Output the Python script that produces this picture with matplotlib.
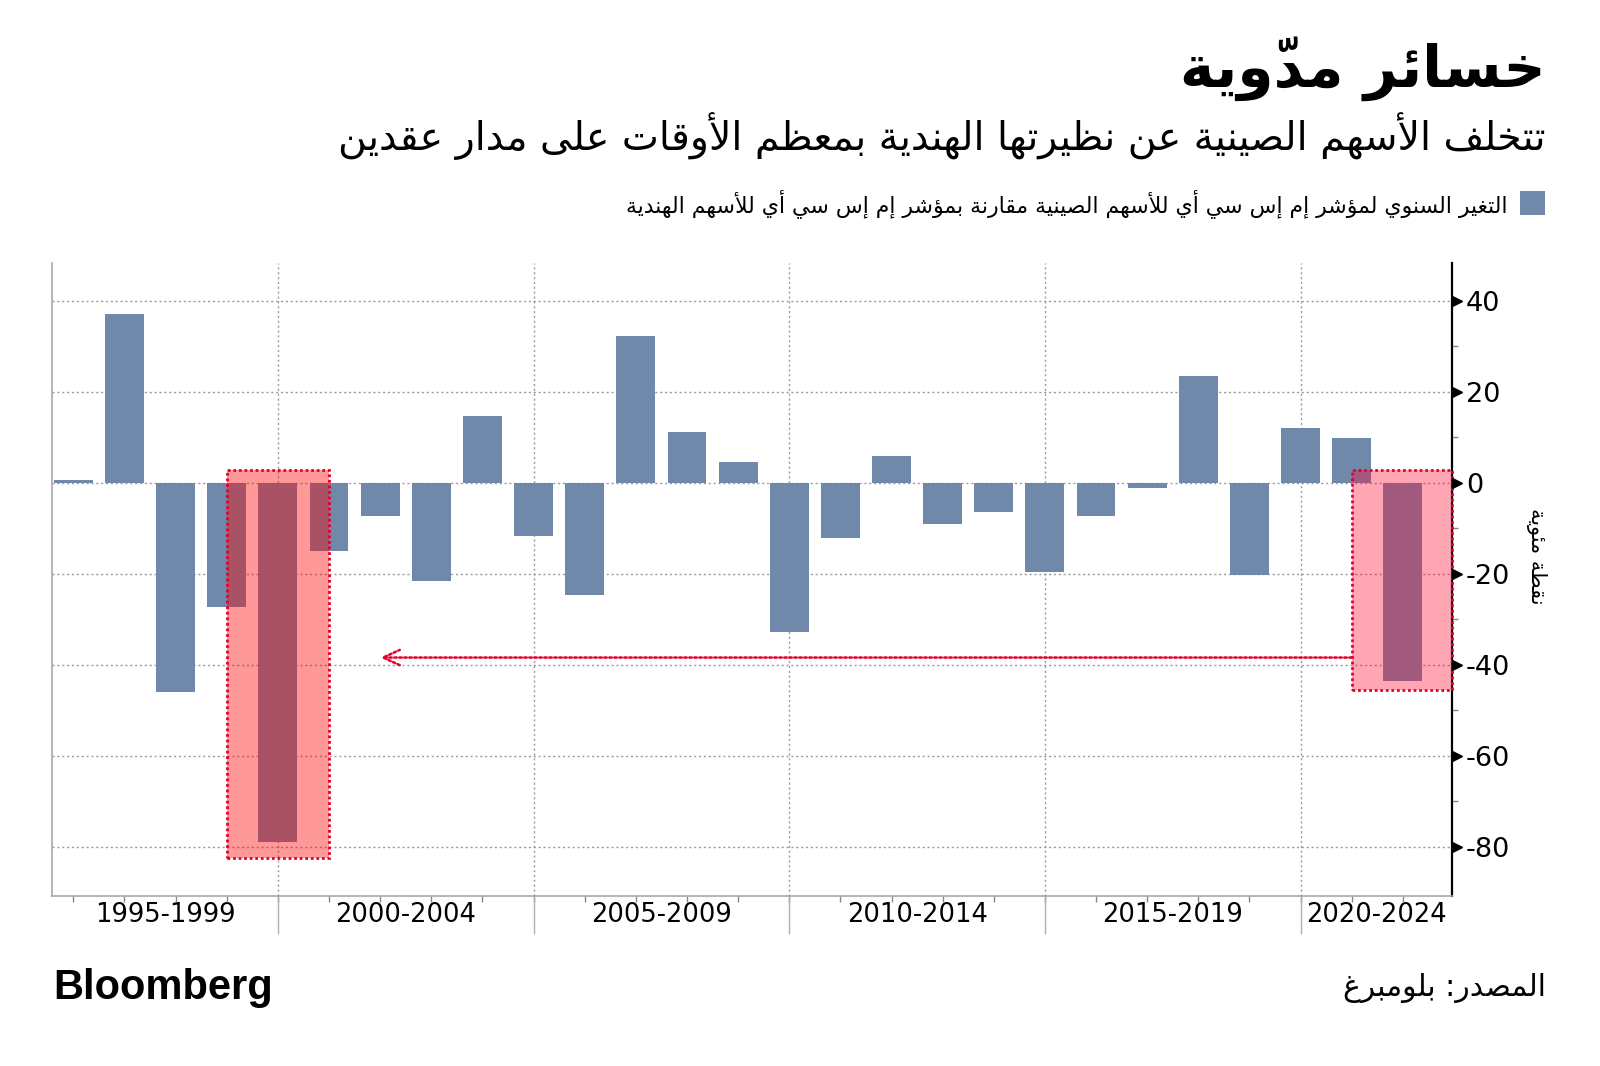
import matplotlib
matplotlib.use('Agg')
import matplotlib.pyplot as plt
import matplotlib.transforms as mtransforms
from matplotlib.patches import Rectangle
from matplotlib import font_manager as fm
import numpy as np

# ---------------- data ----------------
years = list(range(1995, 2022))
values = [0.6, 37.2, -46.0, -27.4, -79.0, -14.9, -7.4, -21.5, 14.7, -11.6,
          -24.6, 32.2, 11.1, 4.5, -32.7, -12.2, 5.9, -9.1, -6.5, -19.7,
          -7.2, -1.1, 23.5, -20.3, 12.1, 9.8, -43.5]
period_labels = ['1995-1999', '2000-2004', '2005-2009', '2010-2014', '2015-2019', '2020-2024']
period_breaks = [1999, 2004, 2009, 2014, 2019]
highlight_years = [1999, 2021]
y_ticks = [-80, -60, -40, -20, 0, 20, 40]
y_minor = [-70, -50, -30, -10, 10, 30]

title = 'خسائر مدوّية'
subtitle = 'تتخلف الأسهم الصينية عن نظيرتها الهندية بمعظم الأوقات على مدار عقدين'
legend_label = 'التغير السنوي لمؤشر إم إس سي أي للأسهم الصينية مقارنة بمؤشر إم إس سي أي للأسهم الهندية'
y_label = 'نقطة مئوية'
source = 'المصدر: بلومبرغ'

# ---------------- Arabic shaping ----------------
_AR = {
    'ء': (0xFE80, 1), 'آ': (0xFE81, 2), 'أ': (0xFE83, 2), 'ؤ': (0xFE85, 2), 'إ': (0xFE87, 2),
    'ئ': (0xFE89, 4), 'ا': (0xFE8D, 2), 'ب': (0xFE8F, 4), 'ة': (0xFE93, 2), 'ت': (0xFE95, 4),
    'ث': (0xFE99, 4), 'ج': (0xFE9D, 4), 'ح': (0xFEA1, 4), 'خ': (0xFEA5, 4), 'د': (0xFEA9, 2),
    'ذ': (0xFEAB, 2), 'ر': (0xFEAD, 2), 'ز': (0xFEAF, 2), 'س': (0xFEB1, 4), 'ش': (0xFEB5, 4),
    'ص': (0xFEB9, 4), 'ض': (0xFEBD, 4), 'ط': (0xFEC1, 4), 'ظ': (0xFEC5, 4), 'ع': (0xFEC9, 4),
    'غ': (0xFECD, 4), 'ف': (0xFED1, 4), 'ق': (0xFED5, 4), 'ك': (0xFED9, 4), 'ل': (0xFEDD, 4),
    'م': (0xFEE1, 4), 'ن': (0xFEE5, 4), 'ه': (0xFEE9, 4), 'و': (0xFEED, 2), 'ى': (0xFEEF, 2),
    'ي': (0xFEF1, 4),
}
_LAMALEF = {'آ': 0xFEF5, 'أ': 0xFEF7, 'إ': 0xFEF9, 'ا': 0xFEFB}


def _is_mark(c):
    o = ord(c)
    return 0x064B <= o <= 0x065F or o == 0x0670


def ar(text):
    s = text
    n = len(s)
    out = []
    prev_connects = False
    i = 0
    while i < n:
        c = s[i]
        if _is_mark(c):
            if out:
                out[-1].append(c)
            else:
                out.append([c])
            i += 1
            continue
        if c not in _AR:
            out.append([c])
            prev_connects = False
            i += 1
            continue
        j = i + 1
        while j < n and _is_mark(s[j]):
            j += 1
        nxt = s[j] if j < n else None
        if c == 'ل' and nxt in _LAMALEF:
            out.append([chr(_LAMALEF[nxt] + (1 if prev_connects else 0))])
            prev_connects = False
            i = j + 1
            continue
        base, nf = _AR[c]
        join_next = nf == 4 and nxt in _AR and _AR[nxt][1] >= 2
        if nf == 1:
            form = 0
        elif prev_connects and join_next:
            form = 3
        elif prev_connects:
            form = 1
        elif join_next:
            form = 2
        else:
            form = 0
        out.append([chr(base + form)])
        prev_connects = join_next
        i += 1
    return ''.join(''.join(cl) for cl in reversed(out))


# ---------------- style ----------------
plt.rcParams['axes.unicode_minus'] = False
names = {f.name for f in fm.fontManager.ttflist}
num_font = 'Liberation Sans Narrow' if 'Liberation Sans Narrow' in names else 'DejaVu Sans'
AR_FONT = 'DejaVu Sans'
BAR = '#7089ab'
GRID = '#9a9a9a'
RED = '#e4002b'

W, H = 1600, 1066
fig = plt.figure(figsize=(16, 10.66), dpi=100)
ax = fig.add_axes([52.3 / W, 1 - 896 / H, (1452 - 52.3) / W, (896 - 263) / H])

x = np.array(years) - years[0]
ax.set_xlim(-0.41, 26.96)
ax.set_ylim(-90.8, 48.3)

# gridlines
for t in y_ticks:
    ax.axhline(t, color=GRID, lw=1, ls=(0, (1.5, 2)), zorder=1)
for b in period_breaks:
    ax.axvline(b - years[0], color=GRID, lw=1, ls=(0, (1.5, 2)), zorder=1)
    ax.plot([b - years[0]] * 2, [0, -0.058], transform=ax.get_xaxis_transform(),
            color='#b0b0b0', lw=1, clip_on=False)

ax.bar(x, values, width=0.76, color=BAR, zorder=2)

# highlight boxes
box_styles = [('#ff0000', 0.40), ('#ff0028', 0.35)]
for hy, (fc, al) in zip(highlight_years, box_styles):
    v = values[years.index(hy)]
    xc = hy - years[0]
    x0, x1 = xc - 1, min(xc + 1, ax.get_xlim()[1])
    y0, y1 = v * 1.045, 2.9
    ax.add_patch(Rectangle((x0, y0), x1 - x0, y1 - y0, facecolor=fc, alpha=al,
                           edgecolor='none', zorder=3))
    ax.add_patch(Rectangle((x0, y0), x1 - x0, y1 - y0, facecolor='none',
                           edgecolor=RED, lw=2, ls=(0, (1, 1)), zorder=4, clip_on=False))

# arrow
p1 = highlight_years[0] - years[0]
p2 = highlight_years[1] - years[0]
ax.annotate('', xy=(p1 + 2, -38.4), xytext=(p2 - 1, -38.4),
            arrowprops=dict(arrowstyle='->,head_length=1.2,head_width=0.55', color=RED,
                            lw=1.8, ls=(0, (1, 1)), shrinkA=0, shrinkB=0), zorder=4)

# spines
ax.spines['top'].set_visible(False)
ax.spines['left'].set_color('#a8a8a8')
ax.spines['left'].set_linewidth(1.2)
ax.spines['bottom'].set_color('#a8a8a8')
ax.spines['bottom'].set_linewidth(1.2)
ax.spines['right'].set_color('black')
ax.spines['right'].set_linewidth(1.6)

# x axis
edges = [ax.get_xlim()[0]] + [b - years[0] for b in period_breaks] + [ax.get_xlim()[1]]
centers = [(a + b) / 2 for a, b in zip(edges[:-1], edges[1:])]
ax.set_xticks(centers)
ax.set_xticklabels(period_labels, fontsize=18.5, family=num_font)
ax.set_xticks(x, minor=True)
ax.tick_params(axis='x', which='major', length=0, pad=4)
ax.tick_params(axis='x', which='minor', length=4, color='#888888', width=1)

# y axis on right
ax.yaxis.tick_right()
ax.set_yticks(y_ticks)
ax.set_yticklabels([str(t) for t in y_ticks], fontsize=19.5, family=num_font)
ax.set_yticks(y_minor, minor=True)
ax.tick_params(axis='y', which='major', length=0, pad=10)
ax.tick_params(axis='y', which='minor', length=4, color='#888888', width=1)
tri_tr = mtransforms.offset_copy(ax.get_yaxis_transform(), fig=fig, x=5, y=0, units='dots')
ax.plot(np.ones(len(y_ticks)), y_ticks, ls='none', marker='>', ms=7, color='black',
        transform=tri_tr, clip_on=False, zorder=5)

fig.text(1536 / W, 1 - 556 / H, ar(y_label), rotation=270, ha='center', va='center',
         fontsize=15, family=AR_FONT)

# titles
fig.text(1546 / W, 1 - 69 / H, ar(title), ha='right', va='center', fontsize=42,
         fontweight='bold', family=AR_FONT)
fig.text(1546 / W, 1 - 136 / H, ar(subtitle), ha='right', va='center', fontsize=28.4,
         family=AR_FONT)

# legend
fig.patches.append(Rectangle((1520 / W, 1 - 215 / H), 25 / W, 24 / H, transform=fig.transFigure,
                             facecolor=BAR, edgecolor='none'))
fig.text(1508 / W, 1 - 204 / H, ar(legend_label), ha='right', va='center', fontsize=15.8,
         family=AR_FONT)

# footer
fig.text(53 / W, 1 - 988 / H, 'Bloomberg', ha='left', va='center', fontsize=30,
         fontweight='bold', family='Liberation Sans')
fig.text(1546 / W, 1 - 988 / H, ar(source), ha='right', va='center', fontsize=21.4,
         family=AR_FONT)

fig.savefig('out.png', dpi=100, facecolor='white')
